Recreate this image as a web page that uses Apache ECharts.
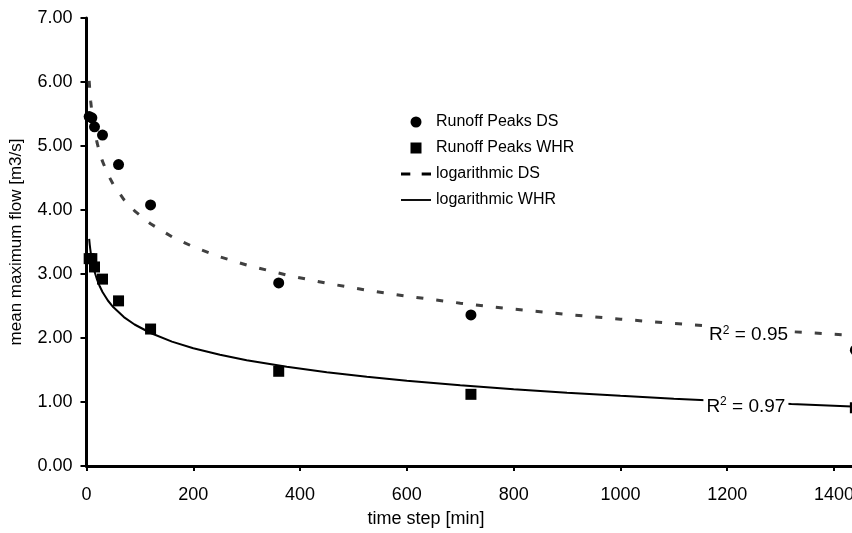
<!DOCTYPE html>
<html>
<head>
<meta charset="utf-8">
<script src="https://cdn.jsdelivr.net/npm/echarts@6/dist/echarts.min.js"></script>
<style>
html,body{margin:0;padding:0;background:#fff;}
#c{width:852px;height:533px;}
</style>
</head>
<body>
<div id="c"></div>
<script>
// Observed runoff peaks
const timeSteps = [5, 10, 15, 30, 60, 120, 360, 720, 1440];
const peaksDS  = [5.46, 5.44, 5.30, 5.17, 4.71, 4.08, 2.86, 2.36, 1.81];
const peaksWHR = [3.24, 3.24, 3.11, 2.92, 2.58, 2.14, 1.48, 1.12, 0.91];

// Logarithmic trend lines
const trendX   = [5, 6, 7, 8, 10, 12, 15, 20, 25, 30, 40, 50, 70, 90, 120, 160, 200, 250, 300, 375, 450, 525, 600, 700, 800, 900, 1000, 1100, 1200, 1320, 1440];
const trendDS  = [6.019, 5.890, 5.782, 5.688, 5.531, 5.403, 5.246, 5.044, 4.887, 4.759, 4.557, 4.400, 4.163, 3.987, 3.784, 3.582, 3.425, 3.268, 3.140, 2.983, 2.855, 2.746, 2.653, 2.544, 2.451, 2.368, 2.294, 2.227, 2.166, 2.099, 2.038];
const trendWHR = [3.549, 3.464, 3.393, 3.331, 3.228, 3.144, 3.040, 2.907, 2.804, 2.719, 2.586, 2.483, 2.327, 2.211, 2.078, 1.944, 1.841, 1.738, 1.653, 1.550, 1.466, 1.395, 1.332, 1.261, 1.199, 1.144, 1.096, 1.052, 1.011, 0.968, 0.927];

// R² annotations
const r2DS = '0.95', r2WHR = '0.97';
const r2DSAt = [1240, 2.05], r2WHRAt = [1235, 0.93];

const seriesNames = ['Runoff Peaks DS', 'Runoff Peaks WHR', 'logarithmic DS', 'logarithmic WHR'];

const pair = (xs, ys) => xs.map((x, i) => [x, ys[i]]);
const FONT = '"Liberation Sans", Arial, sans-serif';

function r2Label(coord, val) {
  return {
    symbol: 'rect', symbolSize: 1, z: 10,
    itemStyle: { color: 'rgba(0,0,0,0)' },
    data: [{ coord: coord, value: val }],
    label: {
      show: true, position: 'inside',
      formatter: '{a|R}{b|2}{a| = ' + val + '}',
      backgroundColor: '#fff', padding: [2, 3, 2, 3],
      rich: {
        a: { fontFamily: FONT, fontSize: 19, color: '#000' },
        b: { fontFamily: FONT, fontSize: 12, color: '#000', verticalAlign: 'top', padding: [0, 0, 9, 0] }
      }
    }
  };
}

const chart = echarts.init(document.getElementById('c'), null, { renderer: 'canvas' });
chart.setOption({
  animation: false,
  backgroundColor: '#fff',
  textStyle: { fontFamily: FONT, color: '#000' },
  grid: { left: 86.5, top: 18, width: 854.3, height: 448, containLabel: false, outerBoundsMode: 'none' },
  legend: {
    orient: 'vertical', left: 396, top: 109,
    itemWidth: 30, itemHeight: 11, itemGap: 10,
    textStyle: { fontFamily: FONT, fontSize: 16, color: '#000' },
    data: [
      { name: seriesNames[0], icon: 'circle' },
      { name: seriesNames[1], icon: 'path://M0,0h10v10h-10z' },
      { name: seriesNames[2], icon: 'path://M0,0h9v3h-9zM20,0h9v3h-9z', itemStyle: { color: '#000' } },
      { name: seriesNames[3], icon: 'path://M0,0h32v2h-32z', itemStyle: { color: '#000' } }
    ]
  },
  graphic: [{
    type: 'text', left: 'center', top: 510,
    style: { text: 'time step [min]', fontFamily: FONT, fontSize: 18, fill: '#000' }
  }],
  xAxis: {
    type: 'value', min: 0, max: 1600, interval: 200,
    axisLine: { onZero: false, lineStyle: { color: '#000', width: 3 } },
    axisTick: { length: 5, lineStyle: { color: '#000', width: 2 } },
    axisLabel: { fontFamily: FONT, fontSize: 18, color: '#000', margin: 20, formatter: v => String(v) },
    splitLine: { show: false }
  },
  yAxis: {
    type: 'value', min: 0, max: 7, interval: 1,
    name: 'mean maximum flow [m3/s]', nameLocation: 'middle', nameGap: 62,
    nameTextStyle: { fontFamily: FONT, fontSize: 17, color: '#000' },
    axisLine: { onZero: false, lineStyle: { color: '#000', width: 3 } },
    axisTick: { length: 6, lineStyle: { color: '#000', width: 2 } },
    axisLabel: { fontFamily: FONT, fontSize: 18, color: '#000', margin: 14, formatter: v => v.toFixed(2) },
    splitLine: { show: false }
  },
  series: [
    { name: seriesNames[0], type: 'scatter', symbol: 'circle', symbolSize: 11,
      itemStyle: { color: '#000', opacity: 1 }, data: pair(timeSteps, peaksDS), z: 5 },
    { name: seriesNames[1], type: 'scatter', symbol: 'rect', symbolSize: 11,
      itemStyle: { color: '#000', opacity: 1 }, data: pair(timeSteps, peaksWHR), z: 5 },
    { name: seriesNames[2], type: 'line', symbol: 'none', smooth: false,
      lineStyle: { color: '#404040', width: 3, type: [7, 13] },
      itemStyle: { color: '#404040' },
      data: pair(trendX, trendDS), markPoint: r2Label(r2DSAt, r2DS), z: 3 },
    { name: seriesNames[3], type: 'line', symbol: 'none', smooth: false,
      lineStyle: { color: '#000', width: 2 },
      itemStyle: { color: '#000' },
      data: pair(trendX, trendWHR), markPoint: r2Label(r2WHRAt, r2WHR), z: 3 }
  ]
});
</script>
</body>
</html>
